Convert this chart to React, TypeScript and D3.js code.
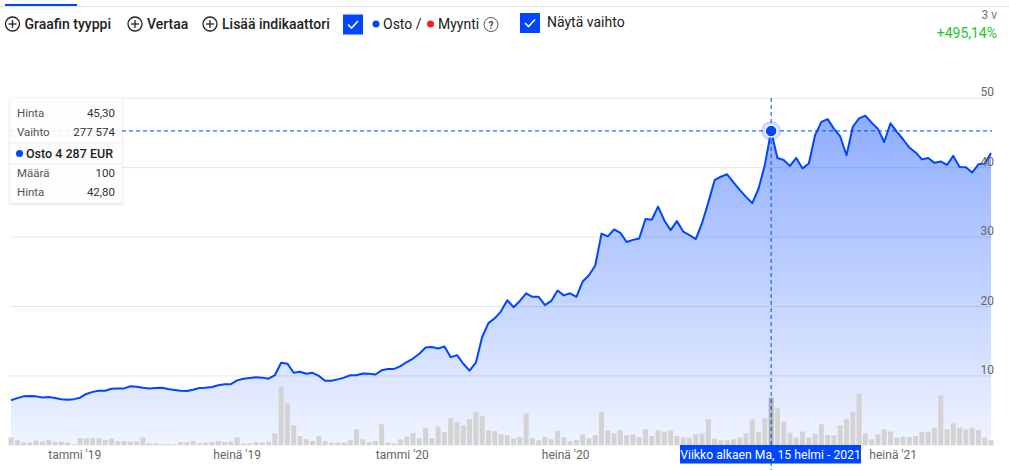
import * as d3 from 'd3'

// weekly closing prices (EUR), Oct 2018 - Oct 2021
const prices = [
  6.5, 6.8, 7.05, 7.1, 7.05, 6.9, 6.95, 6.8, 6.65, 6.57, 6.65, 6.86, 7.4, 7.7, 7.87, 7.87, 8.15, 8.2, 8.2, 8.5,
  8.45, 8.3, 8.2, 8.25, 8.3, 8.1, 7.98, 7.87, 7.82, 8.0, 8.25, 8.3, 8.4, 8.65, 8.8, 8.8, 9.35, 9.6, 9.7, 9.8,
  9.75, 9.6, 10.1, 11.9, 11.76, 10.45, 10.6, 10.3, 10.45, 10.0, 9.3, 9.3, 9.5, 9.75, 10.1, 10.1, 10.35, 10.3, 10.2, 10.8,
  11.0, 11.0, 11.4, 12.0, 12.5, 13.2, 14.1, 14.15, 13.95, 14.25, 12.7, 13.0, 11.75, 10.75, 11.9, 15.6, 17.6, 18.3, 19.3, 20.9,
  19.9, 20.8, 21.9, 21.4, 21.4, 20.2, 20.8, 22.3, 21.6, 21.9, 21.4, 23.6, 24.5, 25.9, 30.5, 30.1, 31.1, 30.6, 29.3, 29.6,
  29.8, 32.6, 32.5, 34.4, 32.4, 31.0, 32.3, 30.8, 30.3, 29.7, 32.0, 35.0, 38.2, 38.7, 39.05, 37.9, 36.8, 35.8, 34.9, 37.0,
  40.4, 45.3, 41.4, 41.1, 40.25, 41.4, 39.9, 40.6, 44.7, 46.6, 47.0, 45.6, 44.5, 41.8, 45.9, 47.1, 47.5, 46.5, 45.6, 43.7,
  46.4, 45.2, 44.1, 42.9, 42.2, 41.2, 41.4, 40.7, 40.9, 40.4, 41.7, 40.1, 40.06, 39.3, 40.5, 40.6, 42.1,
]

// weekly volume, thousands of shares
const volumes = [
  45, 29, 16, 16, 29, 22, 29, 19, 22, 16, 6, 41, 41, 41, 41, 31, 39, 25, 25, 22,
  22, 45, 12, 12, 6, 6, 6, 19, 19, 25, 12, 16, 19, 25, 19, 22, 48, 10, 12, 19,
  16, 22, 70, 339, 244, 116, 54, 35, 25, 54, 25, 17, 16, 16, 29, 93, 35, 19, 25, 122,
  16, 12, 35, 51, 70, 41, 103, 41, 109, 77, 157, 136, 116, 151, 194, 169, 87, 83, 64, 58,
  41, 48, 186, 41, 29, 48, 35, 83, 48, 25, 31, 64, 41, 60, 194, 87, 70, 87, 58, 64,
  48, 93, 54, 87, 80, 87, 54, 45, 45, 64, 70, 151, 39, 29, 29, 35, 45, 70, 151, 77,
  157, 277.574, 219, 138, 74, 45, 80, 45, 68, 122, 60, 58, 116, 151, 196, 301, 70, 35, 64, 93,
  80, 45, 51, 48, 54, 77, 80, 103, 291, 93, 128, 103, 93, 103, 89, 45, 29,
]

const weeks = d3.timeMonday.range(new Date(2018, 9, 22), new Date(2021, 9, 19))

// tammi '21 sits under the hover label, so it is not shown
const tickDates = [
  new Date(2019, 0, 1),
  new Date(2019, 6, 1),
  new Date(2020, 0, 1),
  new Date(2020, 6, 1),
  new Date(2021, 6, 1),
]
const tickLabels = ["tammi '19", "heinä '19", "tammi '20", "heinä '20", "heinä '21"]
const yTicks = [10, 20, 30, 40, 50]

const hoverIndex = 121
const hoverLabel = 'Viikko alkaen Ma, 15 helmi - 2021'

const tooltipRows = [
  { label: 'Hinta', value: '45,30' },
  { label: 'Vaihto', value: '277 574' },
]
const tradeRows = [
  { label: 'Määrä', value: '100' },
  { label: 'Hinta', value: '42,80' },
]

const blue = '#0046ff'
const font = 'Roboto, "Noto Sans", sans-serif'

const width = 1009
const height = 470
const left = 11
const right = 991
const bottom = 445.3

export default function App() {
  const x = d3.scaleTime().domain([weeks[0], weeks[weeks.length - 1]]).range([left, right])
  const y = d3.scaleLinear().domain([0, 50]).range([bottom, 98.3])
  const v = d3.scaleLinear().domain([0, 350]).range([0, 60.1])

  const data = weeks.map((d, i) => ({ date: d, price: prices[i], vol: volumes[i] }))

  const line = d3
    .line<any>()
    .x((d) => x(d.date))
    .y((d) => y(d.price))
  const area = d3
    .area<any>()
    .x((d) => x(d.date))
    .y0(bottom)
    .y1((d) => y(d.price))

  const hx = x(weeks[hoverIndex])
  const hy = y(prices[hoverIndex])

  return (
    <svg
      width={width}
      height={height}
      style={{ position: 'absolute', left: 0, top: 0, fontFamily: font }}
    >
      <defs>
        <linearGradient id="fill" gradientUnits="userSpaceOnUse" x1="0" y1="98" x2="0" y2="445">
          <stop offset="0%" stopColor={blue} stopOpacity={0.46} />
          <stop offset="100%" stopColor={blue} stopOpacity={0.06} />
        </linearGradient>
        <filter id="shadow" x="-20%" y="-20%" width="140%" height="140%">
          <feDropShadow dx="0" dy="1" stdDeviation="1.5" floodColor="#000" floodOpacity="0.18" />
        </filter>
      </defs>

      {/* top bar */}
      <line x1={0} x2={width} y1={6.5} y2={6.5} stroke="#e8e8e8" />
      <rect x={5} y={4} width={72} height={2} fill={blue} />

      {/* toolbar */}
      {[
        { cx: 12.5, label: 'Graafin tyyppi' },
        { cx: 135, label: 'Vertaa' },
        { cx: 210, label: 'Lisää indikaattori' },
      ].map((b) => (
        <g key={b.label}>
          <circle cx={b.cx} cy={24} r={7} fill="none" stroke="#222" strokeWidth={1.3} />
          <line x1={b.cx - 4} x2={b.cx + 4} y1={24} y2={24} stroke="#222" strokeWidth={1.3} />
          <line x1={b.cx} x2={b.cx} y1={20} y2={28} stroke="#222" strokeWidth={1.3} />
          <text x={b.cx + 12} y={29} fontSize={14} fontWeight={500} fill="#222">
            {b.label}
          </text>
        </g>
      ))}
      <rect x={343} y={14.5} width={20} height={20} fill={blue} />
      <path d="M348 24.5 l3.5 3.5 l6.5 -7" fill="none" stroke="#fff" strokeWidth={1.6} />
      <circle cx={376} cy={24} r={3.5} fill={blue} />
      <text x={383} y={29} fontSize={14} fill="#222">
        Osto /
      </text>
      <circle cx={430.5} cy={24} r={3.5} fill="#ff1a1a" />
      <text x={438} y={29} fontSize={14} fill="#222">
        Myynti
      </text>
      <circle cx={491} cy={24.5} r={7} fill="none" stroke="#555" strokeWidth={1} />
      <text x={491} y={28.5} fontSize={10} fontWeight={700} fill="#444" textAnchor="middle">
        ?
      </text>
      <rect x={520} y={13} width={20} height={20} fill={blue} />
      <path d="M525 23 l3.5 3.5 l6.5 -7" fill="none" stroke="#fff" strokeWidth={1.6} />
      <text x={547} y={27} fontSize={14} fill="#222">
        Näytä vaihto
      </text>

      <text x={997} y={19} fontSize={12} fill="#777" textAnchor="end">
        3 v
      </text>
      <text x={997} y={38} fontSize={14} fill="#22c62a" textAnchor="end">
        +495,14%
      </text>

      {/* grid */}
      {yTicks.map((t) => (
        <line key={t} x1={10} x2={992} y1={y(t)} y2={y(t)} stroke="#e6e6e6" />
      ))}

      <path d={area(data) || ''} fill="url(#fill)" />

      {/* volume */}
      {data.map((d, i) => (
        <rect
          key={i}
          x={x(d.date) - 2.5}
          y={bottom - v(d.vol)}
          width={5}
          height={v(d.vol)}
          fill={i === hoverIndex ? '#b3b3b3' : '#d3d3d3'}
        />
      ))}

      <path d={line(data) || ''} fill="none" stroke={blue} strokeWidth={2} strokeLinejoin="round" />

      {yTicks.map((t) => (
        <text key={t} x={994} y={y(t) - 2} fontSize={12} fill="#666" textAnchor="end">
          {t}
        </text>
      ))}

      {tickDates.map((d, i) => (
        <text key={i} x={x(d)} y={459} fontSize={12} fill="#666" textAnchor="middle">
          {tickLabels[i]}
        </text>
      ))}

      {/* crosshair */}
      <line x1={hx} x2={hx} y1={98} y2={470} stroke={blue} strokeDasharray="4 3" />
      <line x1={10} x2={992} y1={hy} y2={hy} stroke={blue} strokeDasharray="4 3" />
      <circle cx={hx} cy={hy} r={10} fill={blue} fillOpacity={0.2} />
      <circle cx={hx} cy={hy} r={6} fill={blue} stroke="#fff" strokeWidth={1.5} />

      <rect x={680} y={445} width={181} height={18.5} fill={blue} />
      <text x={770.5} y={458.5} fontSize={12.2} fill="#fff" textAnchor="middle">
        {hoverLabel}
      </text>

      {/* tooltip */}
      <g filter="url(#shadow)">
        <rect x={10} y={98} width={112} height={105} fill="#fff" fillOpacity={0.88} />
      </g>
      {tooltipRows.map((r, i) => (
        <g key={'a' + i}>
          <text x={17} y={117 + i * 19} fontSize={11.5} fill="#555">
            {r.label}
          </text>
          <text x={115} y={117 + i * 19} fontSize={11.5} fill="#333" textAnchor="end">
            {r.value}
          </text>
        </g>
      ))}
      <line x1={10} x2={122} y1={143} y2={143} stroke="#eee" />
      <circle cx={19.5} cy={153.5} r={3.5} fill={blue} />
      <text x={26} y={158} fontSize={12.5} fontWeight={500} fill="#222">
        Osto 4 287 EUR
      </text>
      <line x1={10} x2={122} y1={164} y2={164} stroke="#eee" />
      {tradeRows.map((r, i) => (
        <g key={'b' + i}>
          <text x={17} y={177 + i * 18.5} fontSize={11.5} fill="#555">
            {r.label}
          </text>
          <text x={115} y={177 + i * 18.5} fontSize={11.5} fill="#333" textAnchor="end">
            {r.value}
          </text>
        </g>
      ))}
    </svg>
  )
}
